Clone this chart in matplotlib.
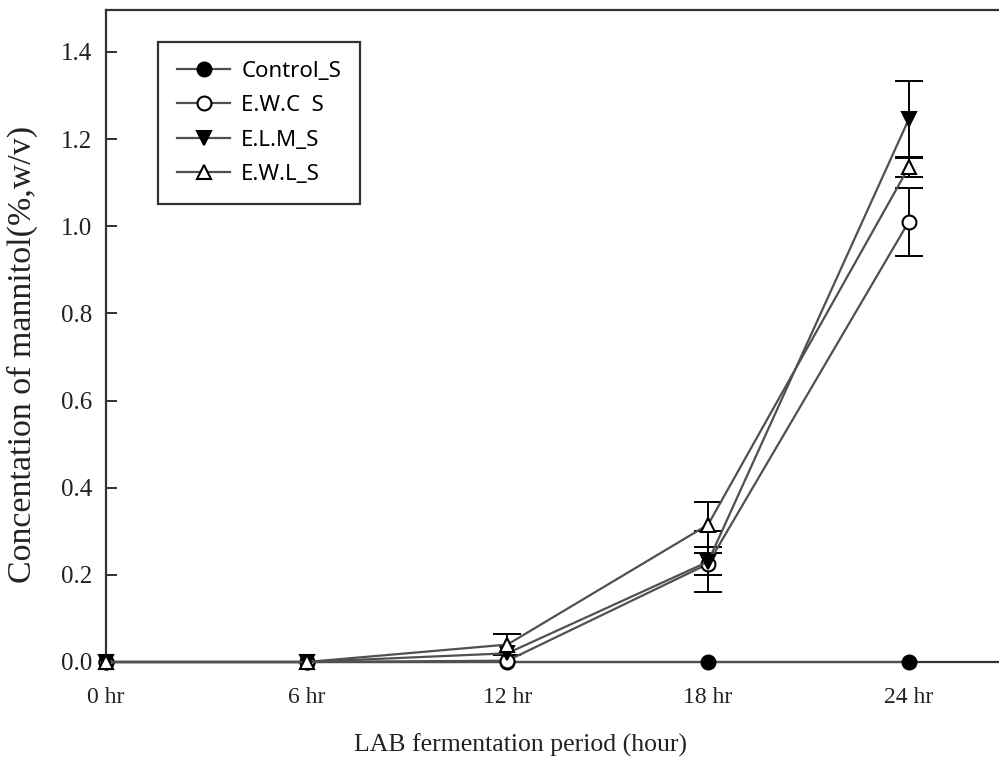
import matplotlib
matplotlib.use("Agg")
import matplotlib.pyplot as plt
import numpy as np

# ---- data ----
time_labels = ["0 hr", "6 hr", "12 hr", "18 hr", "24 hr"]
control_s = [0.0, 0.0, 0.0, 0.0, 0.0]
control_s_err = [0.0, 0.0, 0.0, 0.0, 0.0]
ewc_s = [0.0, 0.0, 0.003, 0.225, 1.010]
ewc_s_err = [0.0, 0.0, 0.0, 0.025, 0.078]
elm_s = [0.0, 0.0, 0.020, 0.230, 1.245]
elm_s_err = [0.0, 0.0, 0.0, 0.070, 0.087]
ewl_s = [0.0, 0.0, 0.040, 0.315, 1.135]
ewl_s_err = [0.0, 0.0, 0.024, 0.052, 0.022]
series_names = ["Control_S", "E.W.C  S", "E.L.M_S", "E.W.L_S"]

serif = "Liberation Serif"
sans = "Noto Sans"

fig = plt.figure(figsize=(9.99, 7.65), dpi=100)
ax = fig.add_axes([106/999, 1 - 662/765, 1 - 106/999, (662 - 10)/765])

x = np.arange(len(time_labels))
line_col = "#505050"
styles = [
    dict(marker="o", mfc="black"),
    dict(marker="o", mfc="white"),
    dict(marker="v", mfc="black"),
    dict(marker="^", mfc="white"),
]
vals = [control_s, ewc_s, elm_s, ewl_s]
errs = [control_s_err, ewc_s_err, elm_s_err, ewl_s_err]

handles = []
for i, (name, v, e, st) in enumerate(zip(series_names, vals, errs, styles)):
    v = np.asarray(v)
    e = np.asarray(e)
    m = e > 0
    if m.any():
        ax.errorbar(x[m], v[m], yerr=e[m], fmt="none", ecolor="black",
                    elinewidth=1.4, capsize=10, capthick=1.4, clip_on=False,
                    zorder=2 + i * 0.1)
    ln, = ax.plot(x, v, color=line_col, lw=1.6, marker=st["marker"], ms=10,
                  mfc=st["mfc"], mec="black", mew=1.5, label=name,
                  clip_on=False, zorder=3 + i * 0.1)
    handles.append(ln)

ax.set_xlim(0, 4.45)
ax.set_ylim(0, 1.496)
yt = np.arange(0, 1.41, 0.2)
ax.set_yticks(yt)
ax.set_yticklabels([f"{t:.1f}" for t in yt], fontfamily=serif, fontsize=18)
ax.set_xticks(x)
ax.set_xticklabels(time_labels, fontfamily=serif, fontsize=17)
ax.tick_params(axis="y", direction="in", length=8, width=1.3, pad=10, colors="#222222")
ax.tick_params(axis="x", length=0, pad=18, colors="#222222")

for s in ["left", "bottom", "top"]:
    ax.spines[s].set_linewidth(1.6)
    ax.spines[s].set_color("#333333")
ax.spines["right"].set_visible(False)

fig.text(22/999, 1 - 354/765, "Concentation of mannitol(%,w/v)", rotation=90,
         ha="center", va="center", fontfamily=serif, fontsize=24.5, color="#222222")
fig.text(520/999, 1 - 745/765, "LAB fermentation period (hour)",
         ha="center", va="center", fontfamily=serif, fontsize=18.5, color="#222222")

leg = ax.legend(handles=handles, loc="upper left",
                bbox_to_anchor=((158 - 106)/893, (662 - 42)/652),
                borderaxespad=0, fancybox=False, framealpha=1, edgecolor="#333333",
                prop={"family": sans, "size": 16}, handlelength=2.4,
                handletextpad=0.5, labelspacing=0.6, borderpad=0.85)
leg.get_frame().set_linewidth(1.6)

fig.savefig("out.png", dpi=100)
